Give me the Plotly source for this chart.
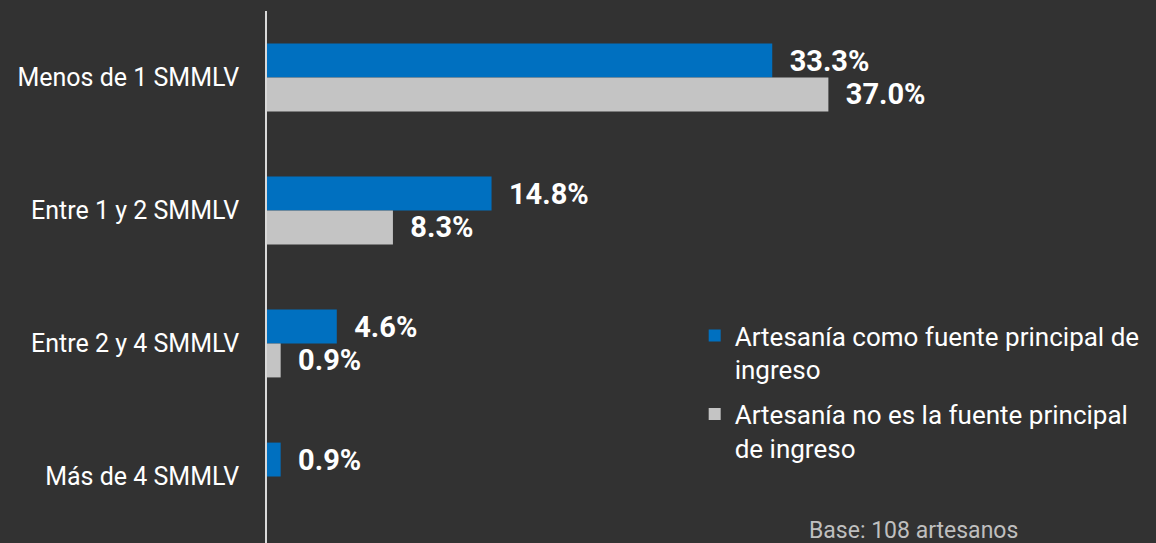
import plotly.graph_objects as go

categories = ["Menos de 1 SMMLV", "Entre 1 y 2 SMMLV", "Entre 2 y 4 SMMLV", "Más de 4 SMMLV"]
principal = [33.3, 14.8, 4.6, 0.9]
no_principal = [37.0, 8.3, 0.9, None]
series_names = ["Artesanía como fuente principal de<br>ingreso",
                "Artesanía no es la fuente principal<br>de ingreso"]
note = "Base: 108 artesanos"

BG = "#323232"
BLUE = "#0070C0"
GRAY = "#C4C4C4"
FONT = "Roboto, Open Sans, sans-serif"

fig = go.Figure()
for name, vals, col in [(series_names[0], principal, BLUE), (series_names[1], no_principal, GRAY)]:
    fig.add_trace(go.Bar(
        y=categories, x=vals, orientation="h", name=name, legendgroup=name,
        marker=dict(color=col, line=dict(width=0)),
        texttemplate="\u00a0\u00a0%{x:.1f}%", textposition="outside",
        textfont=dict(family=FONT, size=29, color="white", weight="bold"),
        constraintext="none", cliponaxis=False,
    ))

fig.update_layout(
    width=1156, height=543,
    paper_bgcolor=BG, plot_bgcolor=BG,
    margin=dict(l=267, r=9, t=11, b=0),
    barmode="group", bargap=0.49, bargroupgap=0,
    font=dict(family=FONT, color="white"),
    showlegend=True,
    legend=dict(x=0.486, y=0.434, xanchor="left", yanchor="top",
                font=dict(family=FONT, size=26, color="white"),
                bgcolor="rgba(0,0,0,0)", valign="top", tracegroupgap=8),
    xaxis=dict(range=[0, 58], visible=False, showgrid=False, zeroline=False),
    yaxis=dict(range=[3.5, -0.5], showgrid=False, zeroline=False,
               showline=True, linecolor="#D9D9D9", linewidth=1.5,
               ticks="", ticklabelstandoff=21,
               tickfont=dict(family=FONT, size=25, color="white")),
)
fig.add_annotation(text=note, xref="paper", yref="paper", x=0.735, y=0,
                   xanchor="center", yanchor="bottom", yshift=-3, showarrow=False,
                   font=dict(family=FONT, size=23, color="#BFBFBF"))

fig.write_html("out.html", config={"displayModeBar": False},
               post_script="document.body.style.margin='0';document.body.style.background='#323232';")
